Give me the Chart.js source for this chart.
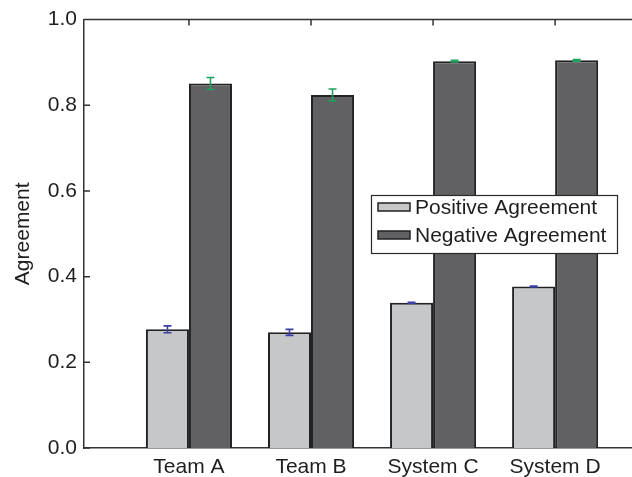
<!DOCTYPE html>
<html>
<head>
<meta charset="utf-8">
<script src="https://cdn.jsdelivr.net/npm/chart.js@4.4.1/dist/chart.umd.min.js"></script>
<style>
  html, body { margin: 0; padding: 0; background: #fff; overflow: hidden; }
  #wrap { width: 632px; height: 477px; position: relative; }
</style>
</head>
<body>
<div id="wrap"><canvas id="agreementChart"></canvas></div>
<script>
// chart data
const categories = ['Team A', 'Team B', 'System C', 'System D'];
const positiveAgreement = [0.277, 0.270, 0.339, 0.377];
const positiveError = [0.008, 0.007, 0.001, 0.001];
const negativeAgreement = [0.851, 0.824, 0.903, 0.905];
const negativeError = [0.014, 0.014, 0.002, 0.002];
const yTicks = [0, 0.2, 0.4, 0.6, 0.8, 1.0];

const fontFamily = '"Liberation Sans", Arial, Helvetica, sans-serif';
const textColor = '#1e1e1e';
const axisColor = '#333333';

function toPoints(values) {
    return values.map((v, i) => ({ x: i + 1, y: v }));
}

// error bars drawn on top of each bar
const errorBars = {
    id: 'errorBars',
    afterDatasetsDraw(chart) {
        const ctx = chart.ctx;
        const yScale = chart.scales.y;
        chart.data.datasets.forEach((ds, di) => {
            const meta = chart.getDatasetMeta(di);
            ctx.save();
            ctx.strokeStyle = ds.errorColor;
            ctx.lineWidth = 1.6;
            meta.data.forEach((bar, i) => {
                const v = ds.data[i].y;
                const e = ds.errors[i];
                const yTop = yScale.getPixelForValue(v + e);
                const yBot = yScale.getPixelForValue(v - e);
                const x = bar.x;
                ctx.beginPath();
                ctx.moveTo(x, yTop);
                ctx.lineTo(x, yBot);
                ctx.moveTo(x - 4, yTop);
                ctx.lineTo(x + 4, yTop);
                ctx.moveTo(x - 4, yBot);
                ctx.lineTo(x + 4, yBot);
                ctx.stroke();
            });
            ctx.restore();
        });
    }
};

// top border, inward ticks and the boxed legend
const frame = {
    id: 'frame',
    afterDraw(chart) {
        const ctx = chart.ctx;
        const area = chart.chartArea;
        const x = chart.scales.x;
        const y = chart.scales.y;
        ctx.save();
        ctx.strokeStyle = axisColor;
        ctx.lineWidth = 1.5;
        ctx.beginPath();
        ctx.moveTo(area.left, area.top);
        ctx.lineTo(area.right, area.top);
        yTicks.forEach(t => {
            const py = y.getPixelForValue(t);
            ctx.moveTo(area.left, py);
            ctx.lineTo(area.left + 6, py);
        });
        categories.forEach((c, i) => {
            const px = x.getPixelForValue(i + 1);
            ctx.moveTo(px, area.top);
            ctx.lineTo(px, area.top + 6);
        });
        ctx.stroke();

        // legend
        const lx = 371, ly = 195, lw = 246, lh = 58;
        ctx.fillStyle = '#ffffff';
        ctx.fillRect(lx, ly, lw, lh);
        ctx.lineWidth = 1.2;
        ctx.strokeStyle = '#2a2a2a';
        ctx.strokeRect(lx + 0.5, ly + 0.5, lw, lh);
        ctx.font = '21px ' + fontFamily;
        ctx.textBaseline = 'middle';
        ctx.textAlign = 'left';
        chart.data.datasets.forEach((ds, i) => {
            const cy = ly + 12 + i * 28;
            ctx.fillStyle = ds.backgroundColor;
            ctx.fillRect(378, cy - 4, 32, 8);
            ctx.strokeStyle = '#222222';
            ctx.lineWidth = 1.5;
            ctx.strokeRect(378, cy - 4, 32, 8);
            ctx.fillStyle = textColor;
            ctx.fillText(ds.label, 415, cy + 1);
        });
        ctx.restore();
    }
};

const chart = new Chart(document.getElementById('agreementChart'), {
    type: 'bar',
    data: {
        datasets: [{
            label: 'Positive Agreement',
            data: toPoints(positiveAgreement),
            errors: positiveError,
            errorColor: '#3b3fa6',
            backgroundColor: '#c6c7c9',
            borderColor: '#222222',
            borderWidth: 2
        }, {
            label: 'Negative Agreement',
            data: toPoints(negativeAgreement),
            errors: negativeError,
            errorColor: '#1ea35f',
            backgroundColor: '#616163',
            borderColor: '#222222',
            borderWidth: 2
        }]
    },
    options: {
        responsive: true,
        maintainAspectRatio: false,
        animation: false,
        devicePixelRatio: 1,
        categoryPercentage: 0.705,
        barPercentage: 1.0,
        layout: { padding: { top: 18, right: 0, left: 0, bottom: 0 } },
        plugins: {
            legend: { display: false },
            tooltip: { enabled: false }
        },
        scales: {
            x: {
                type: 'linear',
                min: 0.14,
                max: 4.63,
                offset: false,
                afterBuildTicks: function(scale) {
                    scale.ticks = categories.map((c, i) => ({ value: i + 1 }));
                },
                afterFit: function(scale) { scale.height = 29; },
                grid: { display: false, drawTicks: false, offset: false },
                border: { display: true, color: axisColor, width: 1.5 },
                ticks: {
                    color: textColor,
                    font: { size: 21, family: fontFamily },
                    padding: 7,
                    maxRotation: 0,
                    autoSkip: false,
                    callback: function(value) {
                        return categories[value - 1] || '';
                    }
                }
            },
            y: {
                min: 0,
                max: 1,
                afterBuildTicks: function(scale) {
                    scale.ticks = yTicks.map(v => ({ value: v }));
                },
                afterFit: function(scale) { scale.width = 84; },
                grid: { display: false, drawTicks: false },
                border: { display: true, color: axisColor, width: 1.5 },
                ticks: {
                    color: textColor,
                    font: { size: 21, family: fontFamily },
                    padding: 7,
                    callback: function(value) {
                        return value.toFixed(1);
                    }
                },
                title: {
                    display: true,
                    text: 'Agreement',
                    color: textColor,
                    font: { size: 21, family: fontFamily },
                    padding: { top: 11, bottom: 0 }
                }
            }
        }
    },
    plugins: [errorBars, frame]
});
</script>
</body>
</html>
